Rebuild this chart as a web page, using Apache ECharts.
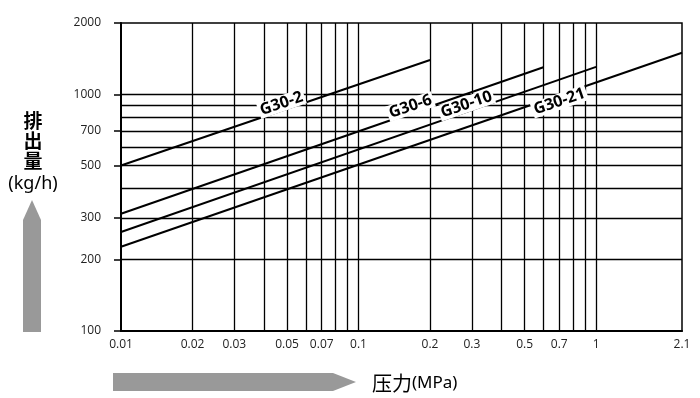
<!DOCTYPE html>
<html>
<head>
<meta charset="utf-8">
<script src="https://cdn.jsdelivr.net/npm/echarts@6/dist/echarts.min.js"></script>
<style>html,body{margin:0;padding:0;background:#fff}#c{width:700px;height:398px}</style>
</head>
<body>
<div id="c"></div>
<script>
// ---- data ----
const xTickValues = [0.01, 0.02, 0.03, 0.05, 0.07, 0.1, 0.2, 0.3, 0.5, 0.7, 1, 2.3];
const xTickLabels = ['0.01', '0.02', '0.03', '0.05', '0.07', '0.1', '0.2', '0.3', '0.5', '0.7', '1', '2.1'];
const xGridValues = [0.02, 0.03, 0.04, 0.05, 0.06, 0.07, 0.08, 0.09, 0.1, 0.2, 0.3, 0.4, 0.5, 0.6, 0.7, 0.8, 0.9, 1];
const yTickValues = [100, 200, 300, 500, 700, 1000, 2000];
const yTickLabels = ['100', '200', '300', '500', '700', '1000', '2000'];
const yGridValues = [200, 300, 400, 500, 600, 700, 800, 900, 1000];
const seriesNames = ['G30-2', 'G30-6', 'G30-10', 'G30-21'];
const g30_2 = [[0.01, 500], [0.2, 1395]];
const g30_6 = [[0.01, 313], [0.6, 1300]];
const g30_10 = [[0.01, 262], [1, 1305]];
const g30_21 = [[0.01, 227], [2.3, 1497]];
const labelAnchors = [[0.0474, 913], [0.1655, 887], [0.2845, 905], [0.701, 931]];

const seriesData = [g30_2, g30_6, g30_10, g30_21];

function lookup(vals, labels, v) {
  for (let i = 0; i < vals.length; i++) {
    if (Math.abs(Math.log10(v) - Math.log10(vals[i])) < 1e-4) return labels[i];
  }
  return '';
}

const chart = echarts.init(document.getElementById('c'), null, {renderer: 'canvas'});

const series = seriesData.map((d, i) => ({
  name: seriesNames[i],
  type: 'line',
  data: d,
  symbol: 'none',
  z: 3,
  lineStyle: {color: '#000', width: 2},
  markPoint: {
    z: 10,
    symbol: 'circle',
    symbolSize: 0,
    silent: true,
    data: [{coord: labelAnchors[i], value: seriesNames[i]}],
    label: {
      show: true,
      position: 'inside',
      formatter: seriesNames[i],
      rotate: 19,
      color: '#000',
      fontFamily: 'Open Sans',
      fontWeight: 'bold',
      fontSize: 16,
      backgroundColor: '#fff',
      padding: [0, 2, 0, 2]
    }
  }
}));

series.push({
  type: 'line',
  data: [],
  silent: true,
  markLine: {
    z: 1,
    silent: true,
    symbol: 'none',
    label: {show: false},
    lineStyle: {color: '#000', width: 1.3, type: 'solid'},
    data: xGridValues.map(v => ({xAxis: v})).concat(yGridValues.map(v => ({yAxis: v})))
  }
});

chart.setOption({
  animation: false,
  backgroundColor: '#fff',
  grid: {left: 121, right: 18, top: 23, bottom: 67, show: true, borderColor: '#000', borderWidth: 1.5},
  xAxis: {
    type: 'log',
    min: 0.01,
    max: 2.3,
    axisLine: {lineStyle: {color: '#000', width: 2}},
    axisTick: {show: false},
    splitLine: {show: false},
    minorTick: {show: false},
    axisLabel: {
      customValues: xTickValues,
      formatter: v => lookup(xTickValues, xTickLabels, v),
      color: '#222',
      fontFamily: 'Open Sans',
      fontSize: 12,
      margin: 8
    }
  },
  yAxis: {
    type: 'log',
    min: 100,
    max: 2000,
    axisLine: {lineStyle: {color: '#000', width: 2}},
    axisTick: {show: true, customValues: yTickValues, length: 7, lineStyle: {color: '#000', width: 1.5}},
    splitLine: {show: false},
    axisLabel: {
      customValues: yTickValues,
      formatter: v => lookup(yTickValues, yTickLabels, v),
      color: '#222',
      fontFamily: 'Open Sans',
      fontSize: 12,
      margin: 20
    }
  },
  graphic: [
    {type: 'polygon', shape: {points: [[32, 200], [41, 220], [41, 332], [23, 332], [23, 220]]}, style: {fill: '#999'}},
    {type: 'polygon', shape: {points: [[113, 373], [333, 373], [356, 382], [333, 391], [113, 391]]}, style: {fill: '#999'}},
    {type: 'text', x: 33, y: 141, style: {text: '排\n出\n量', font: 'bold 19px "Noto Sans CJK JP"', lineHeight: 20, fill: '#000', align: 'center', verticalAlign: 'middle'}},
    {type: 'text', x: 33, y: 184, style: {text: '(kg/h)', font: '18px "Noto Sans"', fill: '#000', align: 'center', verticalAlign: 'middle'}},
    {type: 'text', x: 372, y: 383, style: {text: '{a|压力}{b|(MPa)}', rich: {a: {font: '20px "Noto Sans CJK JP"', fill: '#000'}, b: {font: '17px "Noto Sans"', fill: '#000'}}, align: 'left', verticalAlign: 'middle'}}
  ],
  series: series
});
</script>
</body>
</html>
